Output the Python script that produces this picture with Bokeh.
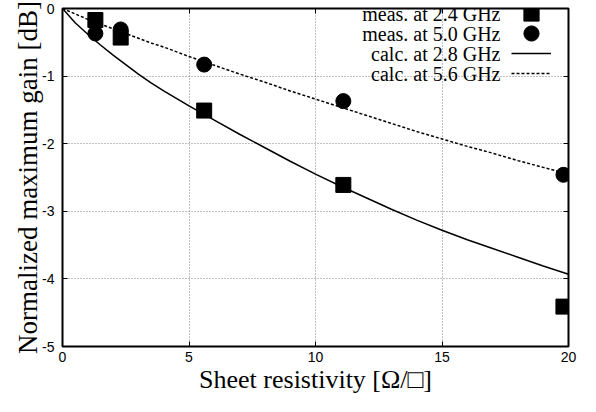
from bokeh.plotting import figure
from bokeh.models import (LinearAxis, Range1d, FixedTicker, Legend, LegendItem, Label)
from bokeh.embed import file_html
from bokeh.resources import INLINE

# ---- data ----
res_meas = [1.3, 2.3, 5.6, 11.1, 19.8]
gain_meas_24 = [-0.17, -0.43, -1.51, -2.61, -4.41]
gain_meas_50 = [-0.37, -0.31, -0.83, -1.37, -2.46]

res_calc = [0, 0.5, 1, 1.5, 2, 2.5, 3, 3.5, 4, 5, 6, 7, 8, 9, 10,
            11, 12, 13, 14, 15, 16, 17, 18, 19, 20]
gain_calc_28 = [0, -0.21, -0.38, -0.54, -0.69, -0.83, -0.97, -1.10, -1.22, -1.44,
                -1.65, -1.86, -2.06, -2.26, -2.45, -2.63, -2.80, -2.97, -3.13,
                -3.28, -3.42, -3.55, -3.68, -3.81, -3.93]
gain_calc_56 = [0, -0.08, -0.16, -0.23, -0.30, -0.37, -0.44, -0.51, -0.57, -0.71,
                -0.84, -0.97, -1.09, -1.22, -1.34, -1.46, -1.58, -1.70, -1.82,
                -1.93, -2.04, -2.14, -2.25, -2.35, -2.45]

x_ticks = [0, 5, 10, 15, 20]
x_tick_labels = ["0", "5", "10", "15", "20"]
y_ticks = [0, -1, -2, -3, -4, -5]
y_tick_labels = ["0", "-1", "-2", "-3", "-4", "-5"]

x_title = "Sheet resistivity [\u03a9/\u25a1]"
y_title = "Normalized maximum gain [dB]"
legend_labels = ["meas. at 2.4 GHz", "meas. at 5.0 GHz",
                 "calc. at 2.8 GHz", "calc. at 5.6 GHz"]

SERIF = "Liberation Serif"
SANS = "Liberation Sans"

p = figure(width=580, height=396, output_backend="svg", toolbar_location=None,
           x_range=Range1d(0, 20), y_range=Range1d(-5, 0),
           min_border_left=62, min_border_right=12, min_border_top=8,
           min_border_bottom=45)

p.background_fill_color = "white"
p.border_fill_color = "white"
p.outline_line_color = "black"
p.outline_line_width = 2

# main axes
for ax, ticks, labels in ((p.xaxis[0], x_ticks, x_tick_labels),
                          (p.yaxis[0], y_ticks, y_tick_labels)):
    ax.ticker = FixedTicker(ticks=ticks)
    ax.major_label_overrides = dict(zip(ticks, labels))
    ax.major_tick_in = 5
    ax.major_tick_out = 0
    ax.minor_tick_line_color = None
    ax.major_tick_line_color = "black"
    ax.axis_line_color = None
    ax.major_label_text_font = SANS
    ax.major_label_text_font_size = "14px"
    ax.major_label_text_color = "black"
    ax.axis_label_text_font = SERIF
    ax.axis_label_text_font_style = "normal"
    ax.axis_label_text_color = "black"
    ax.axis_label_text_line_height = 1.0

p.xaxis[0].axis_label = x_title
p.xaxis[0].axis_label_text_font_size = "26px"
p.xaxis[0].major_label_standoff = 5
p.xaxis[0].axis_label_standoff = 0

p.yaxis[0].axis_label = y_title
p.yaxis[0].axis_label_text_font_size = "27px"
p.yaxis[0].major_label_standoff = 8
p.yaxis[0].axis_label_standoff = -4

# mirror axes (ticks only) on top and right
top_ax = LinearAxis(ticker=FixedTicker(ticks=x_ticks))
right_ax = LinearAxis(ticker=FixedTicker(ticks=y_ticks))
for ax in (top_ax, right_ax):
    ax.major_tick_in = 5
    ax.major_tick_out = 0
    ax.minor_tick_line_color = None
    ax.major_tick_line_color = "black"
    ax.axis_line_color = None
    ax.major_label_text_font_size = "0px"
    ax.major_label_standoff = 0
    ax.major_label_text_alpha = 0
p.add_layout(top_ax, "above")
p.add_layout(right_ax, "right")

# grid
for g, ticks in ((p.xgrid[0], x_ticks), (p.ygrid[0], y_ticks)):
    g.ticker = FixedTicker(ticks=ticks)
    g.grid_line_color = "#808080"
    g.grid_line_width = 1
    g.grid_line_dash = "1 2"

# curves
r_c28 = p.line(res_calc, gain_calc_28, line_color="black", line_width=1.5)
r_c56 = p.line(res_calc, gain_calc_56, line_color="black", line_width=1.5,
               line_dash="3 2")
# measurements
r_m24 = p.scatter(res_meas, gain_meas_24, marker="square", size=15,
                  fill_color="black", line_color="black")
r_m50 = p.scatter(res_meas, gain_meas_50, marker="circle", size=15,
                  fill_color="black", line_color="black")

# legend: glyph samples on the right, text right-aligned to their left
rows_y = [333, 313, 293, 273]          # row centres, px above frame bottom
renderers = [r_m24, r_m50, r_c28, r_c56]
glyph_h = [38, 38, 20, 20]
for r, yc, gh in zip(renderers, rows_y, glyph_h):
    lg = Legend(items=[LegendItem(label=" ", renderers=[r])],
                location=(449, yc - gh // 2), orientation="vertical",
                glyph_width=40, glyph_height=gh, spacing=0,
                padding=0, margin=0, label_standoff=0, label_width=0,
                label_height=0, label_text_font_size="1px",
                background_fill_alpha=0, border_line_alpha=0)
    p.add_layout(lg, "center")

for txt, yc in zip(legend_labels, rows_y):
    p.add_layout(Label(x=438, y=yc, x_units="screen", y_units="screen",
                       text=txt, text_align="right", text_baseline="middle",
                       text_font=SERIF, text_font_size="20px", text_color="black"))

open("out.html", "w").write(file_html(p, INLINE))
